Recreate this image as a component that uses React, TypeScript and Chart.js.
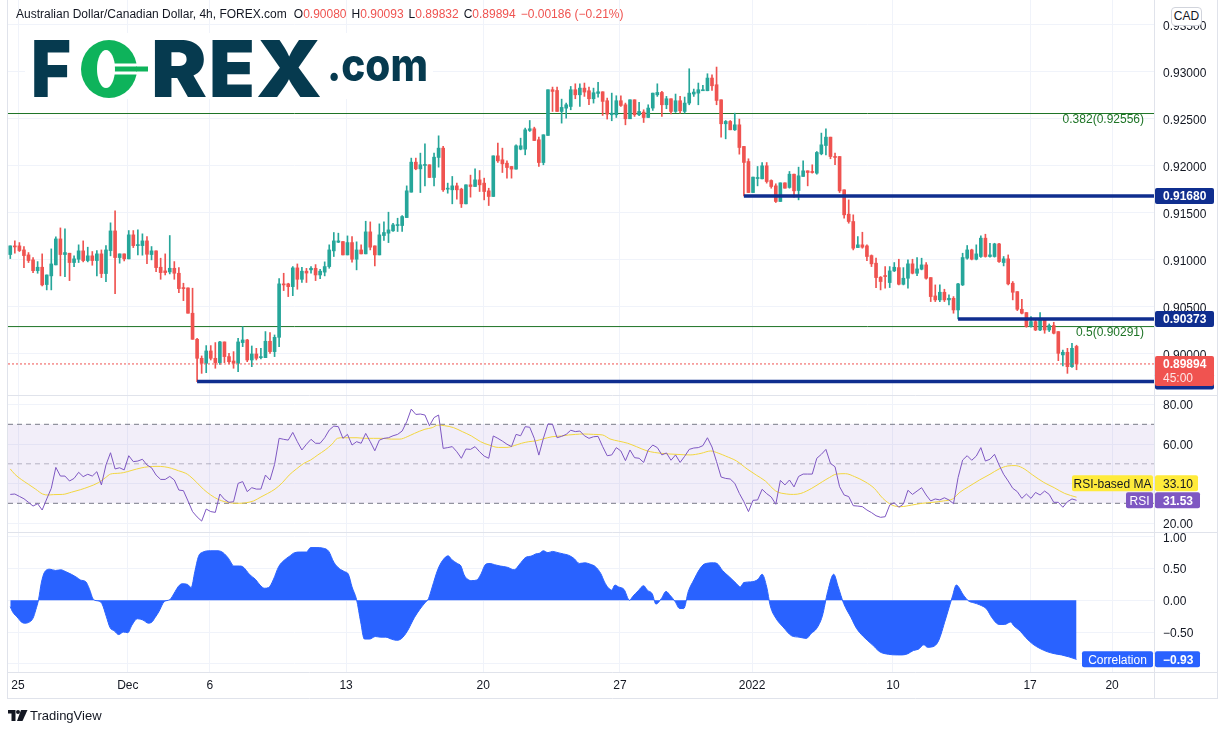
import React, { useEffect, useRef } from "react";
import { Chart, registerables } from "chart.js";

Chart.register(...registerables);

// ---------------- data (AUD/CAD 4h) ----------------
const opens = [
  0.91057, 0.91145, 0.91149, 0.91106, 0.91053, 0.91000, 0.90886, 0.90922, 0.90738, 0.90830,
  0.90947, 0.91223, 0.91057, 0.91071, 0.90972, 0.91007, 0.91096, 0.90993, 0.91043, 0.90993,
  0.91064, 0.90855, 0.91099, 0.91308, 0.91025, 0.91064, 0.91011, 0.91266, 0.91152, 0.91152,
  0.91202, 0.91057, 0.91096, 0.90922, 0.90883, 0.90872, 0.90911, 0.90858, 0.90702, 0.90702,
  0.90433, 0.90156, 0.89954, 0.89901, 0.90032, 0.89954, 0.89908, 0.90128, 0.89972, 0.89925,
  0.89901, 0.90121, 0.90149, 0.89936, 0.90000, 0.89961, 0.89961, 0.90135, 0.90025, 0.90177,
  0.90745, 0.90745, 0.90716, 0.90915, 0.90794, 0.90880, 0.90894, 0.90911, 0.90840, 0.90870,
  0.90929, 0.91096, 0.91188, 0.91195, 0.91053, 0.91184, 0.91007, 0.91106, 0.91064, 0.91298,
  0.91149, 0.91053, 0.91259, 0.91284, 0.91309, 0.91365, 0.91365, 0.91450, 0.91720, 0.92039,
  0.91968, 0.92004, 0.92011, 0.91876, 0.92089, 0.92188, 0.91752, 0.91745, 0.91787, 0.91752,
  0.91596, 0.91798, 0.91780, 0.91851, 0.91816, 0.91734, 0.91674, 0.92106, 0.92064, 0.92028,
  0.91993, 0.91965, 0.92177, 0.92177, 0.92376, 0.92394, 0.92277, 0.92035, 0.92323, 0.92809,
  0.92801, 0.92578, 0.92613, 0.92631, 0.92809, 0.92755, 0.92826, 0.92798, 0.92713, 0.92770,
  0.92787, 0.92692, 0.92543, 0.92543, 0.92692, 0.92649, 0.92500, 0.92702, 0.92543, 0.92571,
  0.92514, 0.92614, 0.92755, 0.92780, 0.92649, 0.92713, 0.92578, 0.92692, 0.92578, 0.92667,
  0.92763, 0.92773, 0.92798, 0.92798, 0.92933, 0.92862, 0.92702, 0.92447, 0.92472, 0.92383,
  0.92436, 0.92206, 0.92046, 0.91716, 0.91865, 0.91862, 0.92000, 0.91844, 0.91787, 0.91621,
  0.91819, 0.91770, 0.91911, 0.91738, 0.91887, 0.91947, 0.91940, 0.91922, 0.92128, 0.92216,
  0.92305, 0.92099, 0.92099, 0.91745, 0.91486, 0.91408, 0.91131, 0.91160, 0.91149, 0.91046,
  0.90965, 0.90816, 0.90830, 0.90759, 0.90883, 0.90918, 0.90741, 0.90805, 0.90958, 0.90858,
  0.90901, 0.90947, 0.90812, 0.90617, 0.90575, 0.90656, 0.90575, 0.90592, 0.90468, 0.90734,
  0.91018, 0.91106, 0.91007, 0.91036, 0.91231, 0.91036, 0.91036, 0.91170, 0.90972, 0.91011,
  0.90752, 0.90663, 0.90475, 0.90440, 0.90291, 0.90344, 0.90255, 0.90362, 0.90255, 0.90302,
  0.90238, 0.89990, 0.90018, 0.89865, 0.90080,
];
const highs = [
  0.91149, 0.91202, 0.91184, 0.91142, 0.91078, 0.91025, 0.90982, 0.91064, 0.90840, 0.91117,
  0.91245, 0.91340, 0.91330, 0.91071, 0.91043, 0.91160, 0.91202, 0.91135, 0.91089, 0.91099,
  0.91106, 0.91152, 0.91394, 0.91521, 0.91064, 0.91064, 0.91312, 0.91312, 0.91319, 0.91277,
  0.91248, 0.91142, 0.91096, 0.91018, 0.91064, 0.91259, 0.90982, 0.90918, 0.90752, 0.90702,
  0.90699, 0.90167, 0.89979, 0.90089, 0.90089, 0.90121, 0.90135, 0.90128, 0.90007, 0.90025,
  0.90167, 0.90291, 0.90156, 0.90085, 0.90060, 0.90060, 0.90238, 0.90227, 0.90202, 0.90801,
  0.90858, 0.90752, 0.90929, 0.90957, 0.90920, 0.90910, 0.90929, 0.90950, 0.90900, 0.90979,
  0.91160, 0.91291, 0.91284, 0.91195, 0.91255, 0.91248, 0.91192, 0.91160, 0.91411, 0.91404,
  0.91149, 0.91383, 0.91404, 0.91507, 0.91390, 0.91443, 0.91472, 0.91787, 0.92082, 0.92082,
  0.92135, 0.92234, 0.92011, 0.92135, 0.92319, 0.92206, 0.91816, 0.91887, 0.91816, 0.91762,
  0.91798, 0.91901, 0.91968, 0.91950, 0.91869, 0.91762, 0.92106, 0.92241, 0.92188, 0.92053,
  0.91993, 0.92223, 0.92294, 0.92401, 0.92482, 0.92411, 0.92305, 0.92330, 0.92809, 0.92837,
  0.92837, 0.92709, 0.92667, 0.92844, 0.92872, 0.92872, 0.92880, 0.92837, 0.92826, 0.92887,
  0.92787, 0.92720, 0.92773, 0.92745, 0.92745, 0.92667, 0.92702, 0.92702, 0.92674, 0.92596,
  0.92649, 0.92773, 0.92872, 0.92791, 0.92738, 0.92713, 0.92763, 0.92738, 0.92731, 0.93032,
  0.92816, 0.92880, 0.92855, 0.92979, 0.92968, 0.93050, 0.92702, 0.92482, 0.92482, 0.92560,
  0.92497, 0.92206, 0.92075, 0.91880, 0.91993, 0.92035, 0.92035, 0.91851, 0.91809, 0.91819,
  0.91819, 0.91940, 0.91911, 0.91986, 0.92053, 0.91947, 0.92011, 0.92152, 0.92348, 0.92394,
  0.92305, 0.92135, 0.92099, 0.91745, 0.91638, 0.91479, 0.91248, 0.91294, 0.91160, 0.91053,
  0.91018, 0.90823, 0.90929, 0.90929, 0.90972, 0.91007, 0.90918, 0.91000, 0.91007, 0.91025,
  0.91018, 0.90972, 0.90812, 0.90734, 0.90734, 0.90688, 0.90628, 0.90610, 0.90752, 0.91071,
  0.91153, 0.91114, 0.91160, 0.91255, 0.91273, 0.91177, 0.91177, 0.91177, 0.91036, 0.91053,
  0.90770, 0.90663, 0.90582, 0.90440, 0.90397, 0.90379, 0.90440, 0.90362, 0.90319, 0.90337,
  0.90238, 0.90042, 0.90060, 0.90113, 0.90093,
];
const lows = [
  0.91014, 0.91071, 0.91089, 0.90918, 0.90972, 0.90865, 0.90858, 0.90723, 0.90681, 0.90681,
  0.90947, 0.90830, 0.90823, 0.90780, 0.90929, 0.90972, 0.90979, 0.90979, 0.90943, 0.90830,
  0.90812, 0.90769, 0.91043, 0.90642, 0.90965, 0.90989, 0.91011, 0.91131, 0.91053, 0.91050,
  0.90961, 0.91000, 0.90876, 0.90794, 0.90840, 0.90851, 0.90794, 0.90652, 0.90567, 0.90433,
  0.90156, 0.89706, 0.89794, 0.89801, 0.89936, 0.89848, 0.89890, 0.89908, 0.89894, 0.89848,
  0.89812, 0.90078, 0.89918, 0.89865, 0.89936, 0.89947, 0.89961, 0.90007, 0.89972, 0.90078,
  0.90674, 0.90610, 0.90620, 0.90688, 0.90760, 0.90760, 0.90860, 0.90780, 0.90800, 0.90830,
  0.90911, 0.91036, 0.91184, 0.91053, 0.91053, 0.90975, 0.90894, 0.91064, 0.91064, 0.91106,
  0.90936, 0.91053, 0.91206, 0.91184, 0.91302, 0.91302, 0.91302, 0.91450, 0.91720, 0.91958,
  0.91716, 0.91787, 0.91876, 0.91787, 0.91986, 0.91727, 0.91709, 0.91596, 0.91645, 0.91557,
  0.91596, 0.91667, 0.91780, 0.91727, 0.91638, 0.91578, 0.91674, 0.92035, 0.91929, 0.91869,
  0.91869, 0.91965, 0.92170, 0.92117, 0.92365, 0.92269, 0.91993, 0.92011, 0.92323, 0.92578,
  0.92578, 0.92454, 0.92507, 0.92596, 0.92713, 0.92631, 0.92738, 0.92649, 0.92667, 0.92731,
  0.92536, 0.92497, 0.92479, 0.92514, 0.92631, 0.92436, 0.92500, 0.92525, 0.92532, 0.92461,
  0.92514, 0.92589, 0.92738, 0.92525, 0.92607, 0.92553, 0.92567, 0.92560, 0.92560, 0.92649,
  0.92738, 0.92649, 0.92798, 0.92798, 0.92801, 0.92649, 0.92305, 0.92287, 0.92383, 0.92376,
  0.92124, 0.91680, 0.91716, 0.91716, 0.91787, 0.91862, 0.91816, 0.91762, 0.91610, 0.91621,
  0.91762, 0.91762, 0.91667, 0.91638, 0.91887, 0.91787, 0.91922, 0.91911, 0.92117, 0.92117,
  0.92075, 0.92011, 0.91716, 0.91443, 0.91390, 0.91106, 0.91131, 0.91124, 0.90993, 0.90929,
  0.90706, 0.90681, 0.90699, 0.90706, 0.90876, 0.90734, 0.90734, 0.90699, 0.90851, 0.90833,
  0.90894, 0.90794, 0.90557, 0.90557, 0.90557, 0.90557, 0.90521, 0.90433, 0.90373, 0.90727,
  0.91007, 0.91000, 0.91000, 0.91025, 0.91029, 0.91029, 0.91029, 0.90972, 0.90936, 0.90734,
  0.90575, 0.90461, 0.90425, 0.90284, 0.90284, 0.90248, 0.90248, 0.90220, 0.90238, 0.90213,
  0.89929, 0.89872, 0.89794, 0.89858, 0.89832,
];
const closes = [
  0.91149, 0.91138, 0.91099, 0.91046, 0.90993, 0.90886, 0.90922, 0.90734, 0.90840, 0.90957,
  0.91223, 0.91057, 0.91078, 0.90972, 0.91011, 0.91096, 0.90993, 0.91043, 0.90993, 0.91064,
  0.90855, 0.91106, 0.91308, 0.91025, 0.91064, 0.91011, 0.91266, 0.91152, 0.91160, 0.91202,
  0.91060, 0.91096, 0.90918, 0.90865, 0.90865, 0.90911, 0.90858, 0.90695, 0.90695, 0.90433,
  0.90156, 0.89954, 0.89901, 0.90032, 0.89954, 0.89908, 0.90128, 0.89972, 0.89918, 0.89901,
  0.90128, 0.90149, 0.89936, 0.90000, 0.89954, 0.89972, 0.90135, 0.90025, 0.90177, 0.90745,
  0.90734, 0.90716, 0.90915, 0.90794, 0.90880, 0.90860, 0.90911, 0.90840, 0.90880, 0.90929,
  0.91106, 0.91202, 0.91202, 0.91053, 0.91184, 0.91007, 0.91106, 0.91064, 0.91298, 0.91135,
  0.91053, 0.91266, 0.91291, 0.91319, 0.91372, 0.91372, 0.91461, 0.91734, 0.92039, 0.91968,
  0.92011, 0.92011, 0.91876, 0.92092, 0.92188, 0.91745, 0.91762, 0.91787, 0.91745, 0.91596,
  0.91798, 0.91780, 0.91851, 0.91798, 0.91727, 0.91674, 0.92106, 0.92053, 0.92021, 0.91982,
  0.91965, 0.92213, 0.92213, 0.92383, 0.92394, 0.92269, 0.92035, 0.92330, 0.92809, 0.92791,
  0.92578, 0.92621, 0.92649, 0.92809, 0.92755, 0.92826, 0.92784, 0.92713, 0.92777, 0.92787,
  0.92685, 0.92550, 0.92560, 0.92692, 0.92642, 0.92500, 0.92702, 0.92543, 0.92578, 0.92514,
  0.92614, 0.92773, 0.92780, 0.92649, 0.92713, 0.92578, 0.92692, 0.92585, 0.92667, 0.92773,
  0.92784, 0.92809, 0.92809, 0.92933, 0.92851, 0.92695, 0.92447, 0.92472, 0.92383, 0.92436,
  0.92195, 0.92036, 0.91716, 0.91880, 0.91876, 0.92000, 0.91833, 0.91780, 0.91621, 0.91819,
  0.91762, 0.91911, 0.91734, 0.91894, 0.91947, 0.91929, 0.91929, 0.92142, 0.92223, 0.92305,
  0.92099, 0.92089, 0.91734, 0.91479, 0.91408, 0.91124, 0.91160, 0.91135, 0.91036, 0.90958,
  0.90812, 0.90770, 0.90823, 0.90883, 0.90922, 0.90741, 0.90805, 0.90958, 0.90858, 0.90904,
  0.90947, 0.90805, 0.90610, 0.90575, 0.90656, 0.90575, 0.90592, 0.90468, 0.90745, 0.91025,
  0.91106, 0.91007, 0.91064, 0.91231, 0.91036, 0.91053, 0.91170, 0.90982, 0.91011, 0.90745,
  0.90656, 0.90475, 0.90433, 0.90291, 0.90344, 0.90255, 0.90362, 0.90255, 0.90302, 0.90220,
  0.90007, 0.90018, 0.89865, 0.90060, 0.89894,
];

const rsiValues = [
  34.5, 34.7, 33.5, 32.3, 30.5, 28.6, 29.8, 26.6, 32.2, 37.6,
  48.2, 43.8, 43.8, 41.3, 42.6, 45.7, 43.5, 44.7, 43.8, 46.0,
  39.3, 49.4, 55.6, 47.4, 48.0, 46.9, 54.1, 51.1, 51.4, 52.3,
  49.4, 48.0, 44.3, 42.1, 42.1, 43.6, 41.8, 36.7, 36.4, 31.2,
  25.8, 23.1, 21.0, 27.1, 25.8, 25.4, 34.7, 32.0, 30.5, 30.8,
  40.1, 41.0, 35.9, 37.9, 37.2, 37.2, 44.3, 41.8, 49.7, 62.9,
  62.4, 62.0, 65.9, 61.2, 57.0, 59.9, 62.4, 60.4, 60.4, 63.2,
  67.1, 69.1, 68.8, 62.9, 64.9, 59.5, 61.2, 60.4, 65.4, 61.2,
  56.6, 62.0, 62.9, 63.2, 64.2, 64.9, 66.6, 71.3, 77.7, 75.0,
  75.2, 74.7, 69.3, 73.4, 74.7, 57.8, 58.2, 58.7, 56.1, 52.8,
  57.5, 57.3, 58.7, 56.1, 53.9, 52.8, 64.1, 62.9, 61.5, 59.9,
  58.7, 64.9, 64.2, 68.8, 68.5, 62.9, 54.4, 62.9, 70.2, 70.0,
  63.2, 63.9, 64.9, 67.0, 66.3, 66.6, 64.2, 62.9, 63.7, 63.9,
  58.7, 54.1, 54.5, 58.2, 56.5, 51.6, 57.0, 53.1, 52.8, 50.7,
  57.0, 59.5, 58.2, 54.5, 55.5, 51.8, 54.5, 50.7, 53.8, 57.3,
  58.0, 58.2, 59.2, 63.2, 58.5, 51.1, 43.3, 42.6, 42.3, 40.1,
  35.0, 30.8, 25.8, 31.5, 31.7, 37.1, 34.9, 33.2, 29.5, 41.6,
  39.3, 41.8, 38.3, 43.6, 44.8, 44.8, 44.8, 52.8, 54.8, 57.3,
  50.2, 48.5, 38.4, 34.2, 33.4, 28.8, 28.6, 28.3, 26.6, 25.3,
  23.7, 22.9, 23.2, 29.1, 30.3, 28.0, 29.6, 36.6, 34.5, 36.2,
  37.9, 34.2, 31.2, 32.2, 31.7, 32.8, 31.7, 29.8, 43.0, 51.9,
  54.1, 51.8, 53.9, 58.2, 51.4, 52.3, 54.8, 49.4, 44.7, 41.3,
  37.6, 35.9, 32.5, 34.7, 32.5, 35.5, 34.2, 36.2, 34.5, 30.5,
  30.5, 28.0, 30.8, 32.2, 31.53,
];

// RSI-based moving average: [candle index, value] vertices
const rsiMaSeries = [
  [0, 47.4], [1, 44.7], [2.4, 42.1], [4, 39.6], [5.6, 37.1], [7.1, 34.7], [8.3, 34.2], [9.5, 34.4],
  [11.5, 34.5], [13.4, 35.6], [15.4, 36.9], [17.3, 38.4], [19.3, 40.4], [20.9, 43.0], [22, 44.8],
  [23.6, 45.2], [24.8, 45.5], [26.7, 46.7], [28.7, 47.9], [30.3, 48.5], [32.2, 48.7], [33.8, 48.5],
  [35.4, 47.7], [36.9, 46.5], [38.5, 45.2], [39.3, 44.0], [40.9, 40.6], [42.4, 37.1], [44, 34.2],
  [45.6, 32.0], [47.1, 30.8], [48.7, 30.1], [50.3, 30.0], [51.8, 30.3], [53.4, 31.2], [55, 33.2],
  [56.5, 35.0], [58.1, 37.2], [59.7, 40.4], [61.2, 44.3], [62.8, 47.4], [64.4, 50.2], [65.9, 51.9],
  [67.5, 54.5], [69.1, 57.0], [70.6, 59.9], [71.8, 62.9], [73, 63.2], [74.5, 63.2], [76.1, 63.2],
  [77.7, 62.9], [79.7, 62.9], [81.6, 62.9], [83.6, 62.5], [85.5, 62.5], [87.1, 63.7], [88.7, 65.4],
  [91, 67.5], [92.6, 68.3], [93.8, 69.6], [95.3, 69.3], [97.3, 68.3], [99.2, 66.3], [101.2, 64.1],
  [103.2, 61.2], [105.1, 59.5], [107.1, 58.3], [109, 58.3], [110.6, 59.2], [112.2, 60.4],
  [113.8, 61.2], [115.3, 61.6], [116.9, 62.6], [118.9, 63.7], [121, 64.1], [122.5, 64.6],
  [124.1, 64.9], [125.7, 65.1], [128, 64.9], [130, 64.6], [131.6, 62.6], [133.5, 61.5], [135.5, 60.4],
  [137.4, 58.7], [139.8, 56.5], [142.9, 55.3], [146.1, 54.8], [149.2, 54.5], [151.6, 55.3],
  [153.7, 56.5], [155.5, 55.3], [157, 53.9], [159.4, 51.4], [161.7, 47.4], [163.7, 44.3],
  [165.7, 41.3], [168, 36.2], [170.4, 34.7], [171.9, 34.5], [173.5, 35.0], [175.9, 37.6],
  [178.2, 40.9], [179.8, 43.1], [181.3, 44.8], [183.3, 45.0], [185.3, 43.5], [187.6, 40.9],
  [189.6, 37.6], [191.5, 32.5], [193.5, 29.1], [195.4, 28.3], [197.8, 29.1], [200.1, 30.0],
  [202.5, 30.5], [204.8, 31.2], [206.8, 32.2], [208.4, 35.6], [210.3, 38.4], [212.7, 41.8],
  [215, 44.7], [217, 47.4], [218.9, 48.9], [220.5, 49.1], [222.1, 48.0], [224.4, 44.3],
  [226.8, 40.6], [229.1, 37.9], [231.4, 35.0], [234, 33.1],
];

// Correlation: [candle index, value] vertices
const corrSeries = [
  [0, -0.10], [0.5, -0.18], [1.7, -0.28], [2.4, -0.34], [3.2, -0.36], [4, -0.35], [5, -0.28],
  [5.6, -0.15], [6.2, 0.01], [6.8, 0.27], [7.5, 0.44], [8.7, 0.49], [9.9, 0.47], [11.1, 0.48],
  [12.2, 0.45], [13.4, 0.41], [14.6, 0.36], [15.4, 0.32], [16.6, 0.29], [17.3, 0.19], [18.3, 0.01],
  [19.3, -0.01], [20.1, -0.05], [21.1, -0.26], [21.9, -0.43], [22.8, -0.48], [23.8, -0.54],
  [24.8, -0.50], [25.8, -0.51], [26.7, -0.39], [27.9, -0.29], [29.1, -0.31], [30.3, -0.36],
  [31.1, -0.34], [31.8, -0.27], [32.6, -0.18], [33.8, -0.02], [35, 0.01], [36.2, 0.14],
  [36.9, 0.22], [37.7, 0.26], [38.9, 0.25], [39.7, 0.20], [40.5, 0.45], [41.3, 0.69], [42.3, 0.76],
  [44, 0.78], [45.6, 0.78], [46.7, 0.75], [47.9, 0.66], [49.1, 0.54], [50.3, 0.54], [51, 0.53],
  [52.6, 0.40], [53.8, 0.33], [54.8, 0.24], [55.8, 0.19], [56.7, 0.20], [57.7, 0.32], [58.9, 0.53],
  [60.1, 0.63], [61.2, 0.69], [62.4, 0.75], [63.6, 0.76], [65, 0.76], [65.9, 0.83], [67.1, 0.83],
  [68.7, 0.82], [69.9, 0.77], [71, 0.60], [72.2, 0.50], [73.4, 0.45], [74.2, 0.41], [75, 0.21],
  [76, 0.01], [76.9, -0.34], [77.7, -0.61], [78.9, -0.61], [80.1, -0.57], [81.2, -0.58],
  [82.4, -0.58], [83.6, -0.61], [84.8, -0.63], [85.9, -0.60], [87.1, -0.49], [88.7, -0.27],
  [89.9, -0.14], [91, -0.04], [91.8, 0.03], [92.6, 0.21], [93.8, 0.48], [94.9, 0.63], [96.1, 0.70],
  [96.9, 0.64], [98.1, 0.58], [98.9, 0.54], [99.6, 0.40], [100.4, 0.33], [101.2, 0.31],
  [102.4, 0.32], [103.2, 0.40], [104.4, 0.57], [105.3, 0.58], [106.3, 0.56], [107.5, 0.54],
  [109.1, 0.52], [110.6, 0.48], [111.8, 0.57], [113, 0.67], [114.5, 0.70], [115.3, 0.73],
  [116.1, 0.74], [117, 0.78], [118, 0.75], [119, 0.77], [120.2, 0.75], [121.4, 0.73], [122.5, 0.71],
  [123.7, 0.66], [124.9, 0.58], [126.1, 0.59], [127.2, 0.57], [128.4, 0.53], [129.6, 0.42],
  [130.4, 0.29], [131.2, 0.20], [132, 0.16], [132.7, 0.24], [133.5, 0.21], [134.7, 0.17],
  [135.9, 0.00], [136.6, 0.06], [137.8, 0.15], [139, 0.23], [139.8, 0.16], [140.9, 0.10],
  [141.7, -0.06], [142.9, 0.03], [143.9, 0.14], [144.9, 0.07], [145.9, -0.02], [146.9, -0.13],
  [147.8, -0.13], [148.8, 0.14], [150, 0.32], [151.2, 0.48], [152.3, 0.57], [154.3, 0.59],
  [155.1, 0.58], [156.3, 0.47], [157.8, 0.37], [159.4, 0.26], [160.2, 0.21], [161, 0.28],
  [162.5, 0.29], [164.1, 0.33], [165, 0.41], [166, 0.21], [166.8, -0.09], [168, -0.28],
  [169.6, -0.42], [171.5, -0.56], [173.1, -0.58], [174.7, -0.60], [175.8, -0.52], [177, -0.44],
  [178.2, -0.25], [179.4, 0.14], [180.7, 0.41], [181.7, 0.21], [182.9, -0.05], [184.5, -0.27],
  [185.7, -0.44], [187.2, -0.57], [189.2, -0.70], [190.8, -0.81], [192.7, -0.85], [194.7, -0.86],
  [195.8, -0.86], [197, -0.84], [198.2, -0.79], [199.3, -0.77], [200.5, -0.70], [201.3, -0.74],
  [202.5, -0.73], [203.7, -0.64], [205.2, -0.31], [206.8, 0.07], [207.6, 0.24], [209.2, 0.08],
  [210.3, -0.01], [211.5, -0.04], [212.7, -0.07], [214.3, -0.14], [215.4, -0.27], [217, -0.38],
  [218.2, -0.38], [219.6, -0.34], [220.1, -0.39], [221.7, -0.49], [222.9, -0.59], [224.4, -0.69],
  [226, -0.76], [227.6, -0.81], [229.1, -0.84], [230.7, -0.86], [232.3, -0.89], [234, -0.93],
];

const timeTickPos = [1.7, 25.8, 43.8, 73.7, 103.8, 133.8, 162.8, 193.7, 223.8, 241.8];
const timeTickLabels = ["25", "Dec", "6", "13", "20", "27", "2022", "10", "17", "20"];
const priceTicks = [0.9, 0.905, 0.91, 0.915, 0.92, 0.925, 0.93, 0.935];
const rsiTicks = [20, 40, 60, 80];
const corrTicks = [-1, -0.5, 0, 0.5, 1];
const corrTickHidden = [-1];

const fibRatios = ["0.382", "0.5"];
const fibValues = [0.92556, 0.90291];
const levelValues = [0.9168, 0.90373, 0.89706];
const levelStarts = [161, 208, 41];
const lastPrice = 0.89894;
const lastRsi = 31.53;
const lastRsiMa = 33.1;
const lastCorr = -0.93;
const headerFields = [
  ["O", "0.90080"],
  ["H", "0.90093"],
  ["L", "0.89832"],
  ["C", "0.89894"],
];

// ---------------- styling ----------------
const FONT = '"Liberation Sans", Arial, Helvetica, sans-serif';
const TXT = "#131722";
const GRID = "#f0f3fa";
const UP = "#26a69a";
const DOWN = "#ef5350";
const NAVY = "#0f2e8f";
const FIBC = "#1e7426";
const PURPLE = "#7e57c2";
const YELLOW = "#ffeb3b";
const MA_LINE = "#f2d640";
const BLUE = "#2962ff";
const X_MIN = -0.5;
const X_MAX = 251;

const hSeg = (v: number, from: number) => [
  { x: from, y: v },
  { x: X_MAX, y: v },
];

const minus = (s: string) => s.replace("-", "\u2212");

function box(ctx: any, x: number, y: number, w: number, h: number, fill: string) {
  ctx.fillStyle = fill;
  ctx.beginPath();
  if (ctx.roundRect) ctx.roundRect(x, y, w, h, 2);
  else ctx.rect(x, y, w, h);
  ctx.fill();
}

const decor = {
  id: "decor",
  afterDraw(chart: any) {
    const ctx = chart.ctx;
    const ys = chart.scales.y;
    const yr = chart.scales.yRsi;
    const yc = chart.scales.yCorr;
    const R = chart.chartArea.right;
    ctx.save();
    ctx.strokeStyle = "#e0e3eb";
    ctx.lineWidth = 1;
    const hl = (y: number, x0: number, x1: number) => {
      ctx.beginPath();
      ctx.moveTo(x0, y);
      ctx.lineTo(x1, y);
      ctx.stroke();
    };
    const vl = (x: number, y0: number, y1: number) => {
      ctx.beginPath();
      ctx.moveTo(x, y0);
      ctx.lineTo(x, y1);
      ctx.stroke();
    };
    hl(Math.round(ys.bottom) + 0.5, 7, 1218);
    hl(Math.round(yr.bottom) + 0.5, 7, 1218);
    hl(Math.round(yc.bottom) + 0.5, 7, 1218);
    hl(698.5, 7, 1218);
    vl(Math.round(R) + 0.5, 0, 698);
    vl(7.5, 0, 698);
    vl(1217.5, 0, 698);

    ctx.font = `12px ${FONT}`;
    ctx.textBaseline = "middle";
    ctx.textAlign = "right";
    ctx.fillStyle = FIBC;
    fibValues.forEach((v, k) => {
      ctx.fillText(`${fibRatios[k]}(${v.toFixed(5)})`, 1144, ys.getPixelForValue(v) + 6);
    });

    ctx.textAlign = "left";
    const ax = Math.round(R) + 1;
    const boldF = `bold 12px ${FONT}`;
    levelValues.forEach((v) => {
      const py = ys.getPixelForValue(v);
      box(ctx, ax, py - 8, 59, 16, NAVY);
      ctx.fillStyle = "#ffffff";
      ctx.font = boldF;
      ctx.fillText(v.toFixed(5), ax + 8, py + 1);
    });
    const lp = ys.getPixelForValue(lastPrice);
    box(ctx, ax, lp - 8, 59, 30, "#f05350");
    ctx.fillStyle = "#ffffff";
    ctx.font = boldF;
    ctx.fillText(lastPrice.toFixed(5), ax + 8, lp + 1);
    ctx.fillStyle = "rgba(255,255,255,0.85)";
    ctx.font = `12px ${FONT}`;
    ctx.fillText("45:00", ax + 8, lp + 15);

    const rp = yr.getPixelForValue(lastRsi);
    const mp = rp - 17;
    box(ctx, 1072, mp - 8, 81, 16, YELLOW);
    box(ctx, ax, mp - 8, 43, 16, YELLOW);
    box(ctx, 1126, rp - 8, 27, 16, PURPLE);
    box(ctx, ax, rp - 8, 45, 16, PURPLE);
    ctx.font = `12px ${FONT}`;
    ctx.fillStyle = TXT;
    ctx.textAlign = "center";
    ctx.fillText("RSI-based MA", 1112.5, mp + 1);
    ctx.textAlign = "left";
    ctx.fillText(lastRsiMa.toFixed(2), ax + 8, mp + 1);
    ctx.fillStyle = "#ffffff";
    ctx.textAlign = "center";
    ctx.fillText("RSI", 1139.5, rp + 1);
    ctx.textAlign = "left";
    ctx.font = boldF;
    ctx.fillText(lastRsi.toFixed(2), ax + 8, rp + 1);

    const cp = yc.getPixelForValue(lastCorr);
    box(ctx, 1082, cp - 8, 71, 16, BLUE);
    box(ctx, ax, cp - 8, 45, 16, BLUE);
    ctx.fillStyle = "#ffffff";
    ctx.font = `12px ${FONT}`;
    ctx.textAlign = "center";
    ctx.fillText("Correlation", 1117.5, cp + 1);
    ctx.textAlign = "left";
    ctx.font = boldF;
    ctx.fillText(minus(lastCorr.toFixed(2)), ax + 8, cp + 1);
    ctx.restore();
  },
};

export default function App() {
  const ref = useRef<HTMLCanvasElement | null>(null);

  useEffect(() => {
    document.body.style.margin = "0";
    const idx = closes.map((_, i) => i);
    const colors = idx.map((i) => (closes[i] >= opens[i] ? UP : DOWN));
    const tickFont = { family: FONT, size: 12 };

    const lineBase = { type: "line", pointRadius: 0, borderWidth: 1, xAxisID: "x" };

    const datasets: any[] = [
      ...fibValues.map((v) => ({
        ...lineBase,
        yAxisID: "y",
        data: hSeg(v, X_MIN),
        borderColor: FIBC,
        borderWidth: 1,
        order: 9,
      })),
      {
        type: "bar",
        xAxisID: "x",
        yAxisID: "y",
        data: idx.map((i) => ({ x: i, y: [lows[i], highs[i]] })),
        backgroundColor: colors,
        barThickness: 1,
        grouped: false,
        borderWidth: 0,
        order: 6,
      },
      {
        type: "bar",
        xAxisID: "x",
        yAxisID: "y",
        data: idx.map((i) => ({ x: i, y: [opens[i], closes[i]] })),
        backgroundColor: colors,
        barThickness: 3,
        minBarLength: 1,
        grouped: false,
        borderWidth: 0,
        order: 5,
      },
      {
        ...lineBase,
        yAxisID: "y",
        data: hSeg(lastPrice, X_MIN),
        borderColor: DOWN,
        borderDash: [2, 2],
        order: 3,
      },
      ...levelValues.map((v, k) => ({
        ...lineBase,
        yAxisID: "y",
        data: hSeg(v, levelStarts[k]),
        borderColor: NAVY,
        borderWidth: 3.5,
        order: 1,
      })),
      {
        ...lineBase,
        yAxisID: "yRsi",
        data: hSeg(70, X_MIN),
        borderColor: "#787b86",
        borderDash: [5, 4],
        fill: { value: 30 },
        backgroundColor: "rgba(126,87,194,0.1)",
        order: 8,
      },
      {
        ...lineBase,
        yAxisID: "yRsi",
        data: hSeg(50, X_MIN),
        borderColor: "rgba(120,123,134,0.5)",
        borderDash: [5, 4],
        order: 8,
      },
      {
        ...lineBase,
        yAxisID: "yRsi",
        data: hSeg(30, X_MIN),
        borderColor: "#787b86",
        borderDash: [5, 4],
        order: 8,
      },
      {
        ...lineBase,
        yAxisID: "yRsi",
        data: rsiMaSeries.map(([x, y]) => ({ x, y })),
        borderColor: MA_LINE,
        cubicInterpolationMode: "monotone",
        order: 4,
      },
      {
        ...lineBase,
        yAxisID: "yRsi",
        data: rsiValues.map((y, i) => ({ x: i, y })),
        borderColor: PURPLE,
        order: 3,
      },
      {
        ...lineBase,
        yAxisID: "yCorr",
        data: corrSeries.map(([x, y]) => ({ x, y })),
        borderColor: BLUE,
        backgroundColor: BLUE,
        fill: "origin",
        cubicInterpolationMode: "monotone",
        order: 4,
      },
    ];

    const yCommon = (ticks: number[], fmt: (v: number) => string) => ({
      type: "linear",
      position: "right",
      stack: "panes",
      afterBuildTicks: (s: any) => {
        s.ticks = ticks.map((v) => ({ value: v }));
      },
      afterFit: (s: any) => {
        s.width = 63;
        s.paddingTop = 0;
        s.paddingBottom = 0;
      },
      ticks: {
        padding: 9,
        labelOffset: 1.5,
        color: TXT,
        font: tickFont,
        autoSkip: false,
        callback: (v: any) => fmt(Number(v)),
      },
      grid: { color: GRID, drawTicks: false },
      border: { display: false },
    });

    const chart = new Chart(ref.current as HTMLCanvasElement, {
      type: "bar",
      data: { datasets },
      options: {
        responsive: false,
        animation: false,
        devicePixelRatio: 1,
        events: [],
        layout: { padding: { left: 8, right: 11, top: 0, bottom: 36 } },
        plugins: { legend: { display: false }, tooltip: { enabled: false } },
        scales: {
          x: {
            type: "linear",
            position: "bottom",
            min: X_MIN,
            max: X_MAX,
            offset: false,
            afterBuildTicks: (s: any) => {
              s.ticks = timeTickPos.map((v) => ({ value: v }));
            },
            afterFit: (s: any) => {
              s.height = 26;
              s.paddingLeft = 0;
              s.paddingRight = 0;
            },
            ticks: {
              autoSkip: false,
              maxRotation: 0,
              padding: 6,
              color: TXT,
              font: tickFont,
              callback: (_v: any, i: number) => timeTickLabels[i],
            },
            grid: { color: GRID, drawTicks: false, offset: false },
            border: { display: false },
          },
          y: {
            ...yCommon(priceTicks, (v) => v.toFixed(5)),
            stackWeight: 395,
            min: 0.895638,
            max: 0.937628,
          },
          yRsi: {
            ...yCommon(rsiTicks, (v) => v.toFixed(2)),
            stackWeight: 137,
            min: 15.47,
            max: 84.84,
          },
          yCorr: {
            ...yCommon(corrTicks, (v) => (corrTickHidden.includes(v) ? "" : minus(v.toFixed(2)))),
            stackWeight: 140,
            min: -1.129,
            max: 1.0756,
          },
        },
      } as any,
      plugins: [decor],
    } as any);
    return () => chart.destroy();
  }, []);

  return (
    <div
      style={{
        position: "absolute",
        left: 0,
        top: 0,
        width: 1228,
        height: 734,
        background: "#ffffff",
        overflow: "hidden",
        fontFamily: FONT,
      }}
    >
      <canvas ref={ref} width={1228} height={734} style={{ position: "absolute", left: 0, top: 0 }} />

      <div
        style={{
          position: "absolute",
          left: 16,
          top: 6,
          height: 16,
          display: "flex",
          alignItems: "center",
          fontSize: 12,
          color: TXT,
          whiteSpace: "nowrap",
        }}
      >
        <span>Australian Dollar/Canadian Dollar, 4h, FOREX.com</span>
        {headerFields.map(([k, v]) => (
          <span key={k} style={{ marginLeft: k === "O" ? 7 : 5 }}>
            {k}
            <span style={{ color: DOWN }}>{v}</span>
          </span>
        ))}
        <span style={{ marginLeft: 5, color: DOWN }}>{"\u22120.00186 (\u22120.21%)"}</span>
      </div>

      <div
        style={{
          position: "absolute",
          left: 1171,
          top: 7,
          width: 29,
          height: 17,
          border: "1px solid #d1d4dc",
          borderRadius: 4,
          background: "#ffffff",
          fontSize: 12,
          lineHeight: "17px",
          textAlign: "center",
          color: TXT,
        }}
      >
        CAD
      </div>

      <svg
        width={440}
        height={110}
        style={{ position: "absolute", left: 0, top: 0 }}
        fontFamily="Inter, 'Open Sans', sans-serif"
      >
        <rect x={25} y={33} width={408} height={66} fill="#ffffff" />
        <text x={31} y={97} fontSize={78} fontWeight={900} fill="#063a4f" textLength={40} lengthAdjust="spacingAndGlyphs">
          F
        </text>
        <ellipse cx={109} cy={69} rx={28} ry={29} fill="#0eb35b" />
        <ellipse cx={106} cy={69} rx={9} ry={19} fill="#ffffff" />
        <rect x={110} y={63.5} width={40} height={3} fill="#ffffff" />
        <rect x={110} y={71.5} width={40} height={3} fill="#ffffff" />
        <rect x={136} y={66.5} width={12} height={5} fill="#0eb35b" />
        <text x={151} y={97} fontSize={78} fontWeight={900} fill="#063a4f" textLength={56} lengthAdjust="spacingAndGlyphs">
          R
        </text>
        <text x={209} y={97} fontSize={78} fontWeight={900} fill="#063a4f" textLength={46} lengthAdjust="spacingAndGlyphs">
          E
        </text>
        <text x={256} y={97} fontSize={78} fontWeight={900} fill="#063a4f" textLength={66} lengthAdjust="spacingAndGlyphs">
          X
        </text>
        <text x={327} y={81} fontSize={45} fontWeight={800} fill="#063a4f" textLength={101} lengthAdjust="spacingAndGlyphs">
          .com
        </text>
      </svg>

      <svg width={20} height={12} style={{ position: "absolute", left: 8, top: 710 }}>
        <path d="M0 0 H7.5 V11 H3.5 V3.5 H0 Z" fill={TXT} />
        <circle cx={10} cy={2} r={2} fill={TXT} />
        <path d="M13 0 H19.5 L14.5 11 H9 Z" fill={TXT} />
      </svg>
      <div style={{ position: "absolute", left: 30, top: 708, fontSize: 13, color: TXT }}>TradingView</div>
    </div>
  );
}
